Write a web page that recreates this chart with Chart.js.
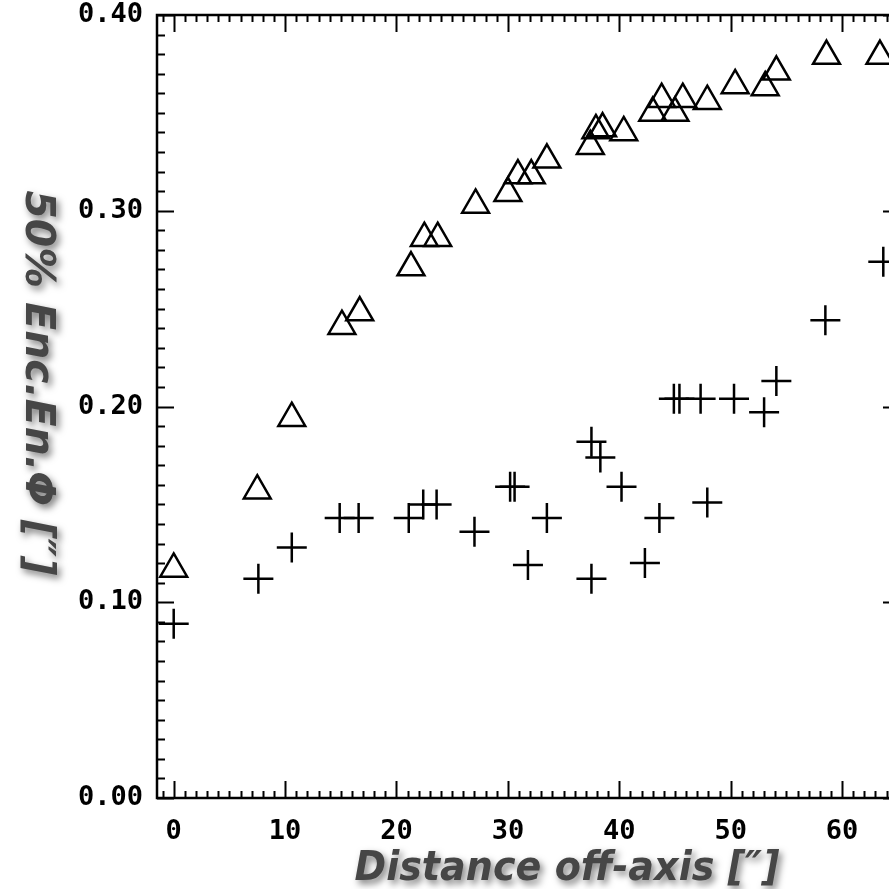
<!DOCTYPE html>
<html>
<head>
<meta charset="utf-8">
<script src="https://cdn.jsdelivr.net/npm/chart.js@4/dist/chart.umd.min.js"></script>
<style>
  html, body { margin: 0; padding: 0; background: #fff; overflow: hidden; }
  #plot { display: block; }
</style>
</head>
<body>
<canvas id="plot" width="910" height="889"></canvas>
<script>
// triangles (upper series)
const triX = [0, 7.5, 10.6, 15.1, 16.7, 21.3, 22.5, 23.7, 27.1, 30.0, 30.9, 32.1, 33.5,
  37.4, 37.9, 38.5, 40.4, 43.0, 43.8, 45.0, 45.7, 47.9, 50.4, 53.1, 54.1, 58.6, 63.4];
const triY = [0.117, 0.157, 0.194, 0.241, 0.248, 0.271, 0.286, 0.286, 0.303, 0.309, 0.318, 0.318, 0.326,
  0.333, 0.341, 0.342, 0.340, 0.350, 0.357, 0.350, 0.357, 0.356, 0.364, 0.363, 0.371, 0.379, 0.379];

// plus signs (lower series)
const plusX = [0, 7.6, 10.6, 14.9, 16.6, 21.1, 22.4, 23.6, 27.0, 30.2, 30.6, 31.8, 33.5,
  37.5, 38.3, 37.5, 40.2, 42.3, 43.6, 44.9, 45.4, 47.3, 47.9, 50.3, 53.0, 54.1, 58.5, 63.7];
const plusY = [0.089, 0.112, 0.128, 0.143, 0.143, 0.143, 0.150, 0.150, 0.136, 0.159, 0.159, 0.119, 0.143,
  0.182, 0.174, 0.112, 0.159, 0.120, 0.143, 0.204, 0.204, 0.204, 0.151, 0.204, 0.197, 0.213, 0.244, 0.274];

const xTicks = [0, 10, 20, 30, 40, 50, 60];
const xTickLabels = ['0', '10', '20', '30', '40', '50', '60'];
const yTicks = [0, 0.1, 0.2, 0.3, 0.4];
const yTickLabels = ['0.00', '0.10', '0.20', '0.30', '0.40'];

const xTitle = 'Distance off-axis [\u2033]';
const yTitle = '50% Enc.En.\u03A6 [\u2033]';

const tickFont = { family: '"DejaVu Sans Mono"', size: 27, weight: 'bold' };

function toPoints(xs, ys) {
  return xs.map((x, i) => ({ x: x, y: ys[i] }));
}

// IDL style box: frame plus inward ticks on all four sides
const framePlugin = {
  id: 'idlFrame',
  beforeDatasetsDraw(chart) {
    const ctx = chart.ctx;
    const a = chart.chartArea;
    const sx = chart.scales.x;
    const sy = chart.scales.y;
    ctx.save();
    ctx.strokeStyle = '#000';
    ctx.lineWidth = 2;
    ctx.beginPath();
    for (let v = Math.ceil(sx.min); v <= sx.max; v++) {
      const px = Math.round(sx.getPixelForValue(v)) + 0.5;
      const len = v % 10 === 0 ? 17 : 7;
      ctx.moveTo(px, a.bottom); ctx.lineTo(px, a.bottom - len);
      ctx.moveTo(px, a.top); ctx.lineTo(px, a.top + len);
    }
    for (let i = 0; i <= 40; i++) {
      const py = Math.round(sy.getPixelForValue(i / 100)) + 0.5;
      const len = i % 10 === 0 ? 17 : 8;
      ctx.moveTo(a.left, py); ctx.lineTo(a.left + len, py);
      ctx.moveTo(a.right, py); ctx.lineTo(a.right - len, py);
    }
    ctx.stroke();
    ctx.lineWidth = 2.5;
    ctx.strokeRect(a.left, a.top, a.right - a.left, a.bottom - a.top);
    ctx.restore();
  },
  afterDraw(chart) {
    const ctx = chart.ctx;
    ctx.save();
    ctx.font = 'italic bold 40px "DejaVu Sans"';
    ctx.fillStyle = '#464646';
    ctx.shadowColor = 'rgba(0,0,0,0.5)';
    ctx.shadowBlur = 7;
    ctx.shadowOffsetX = 3;
    ctx.shadowOffsetY = 4;
    ctx.textAlign = 'center';
    ctx.textBaseline = 'alphabetic';

    let w = ctx.measureText(xTitle).width;
    ctx.save();
    ctx.translate(567, 880);
    ctx.scale(425 / w, 1);
    ctx.fillText(xTitle, 0, 0);
    ctx.restore();

    w = ctx.measureText(yTitle).width;
    ctx.save();
    ctx.translate(26, 383);
    ctx.rotate(Math.PI / 2);
    ctx.scale(385 / w, 1);
    ctx.fillText(yTitle, 0, 0);
    ctx.restore();

    ctx.restore();
  }
};

new Chart(document.getElementById('plot'), {
  type: 'scatter',
  data: {
    datasets: [
      {
        label: 'triangles',
        data: toPoints(triX, triY),
        pointStyle: 'triangle',
        pointRadius: 15.5,
        pointBorderWidth: 2.5,
        borderColor: '#000',
        backgroundColor: 'rgba(0,0,0,0)'
      },
      {
        label: 'plus',
        data: toPoints(plusX, plusY),
        pointStyle: 'cross',
        pointRadius: 15,
        pointBorderWidth: 2.5,
        borderColor: '#000',
        backgroundColor: 'rgba(0,0,0,0)'
      }
    ]
  },
  options: {
    responsive: false,
    animation: false,
    events: [],
    layout: { autoPadding: false, padding: { left: 0, right: 10, top: 15, bottom: 0 } },
    plugins: {
      legend: { display: false },
      tooltip: { enabled: false }
    },
    scales: {
      x: {
        type: 'linear',
        min: -1.5,
        max: 65.2,
        afterBuildTicks: (s) => { s.ticks = xTicks.map(v => ({ value: v })); },
        afterFit: (s) => { s.height = 91; s.paddingLeft = 0; s.paddingRight = 0; },
        grid: { display: false, drawTicks: false },
        border: { display: false },
        ticks: {
          font: tickFont,
          color: '#000',
          padding: 18,
          maxRotation: 0,
          autoSkip: false,
          callback: (v, i) => xTickLabels[i]
        }
      },
      y: {
        type: 'linear',
        min: 0,
        max: 0.4,
        afterBuildTicks: (s) => { s.ticks = yTicks.map(v => ({ value: v })); },
        afterFit: (s) => { s.width = 157; s.paddingTop = 0; s.paddingBottom = 0; },
        grid: { display: false, drawTicks: false },
        border: { display: false },
        ticks: {
          font: tickFont,
          color: '#000',
          padding: 14,
          autoSkip: false,
          callback: (v, i) => yTickLabels[i]
        }
      }
    }
  },
  plugins: [framePlugin]
});
</script>
</body>
</html>
